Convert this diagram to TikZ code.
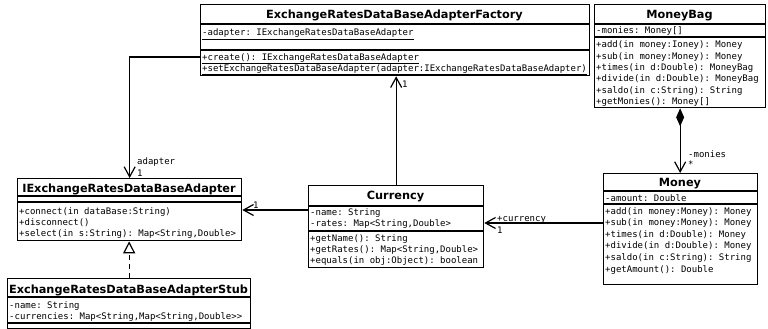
\documentclass[tikz,border=0pt]{standalone}
\usepackage{fontspec}
\setmainfont{DejaVu Sans}
\newfontfamily\memberfont{DejaVu Sans Mono}
\usetikzlibrary{arrows.meta}
\frenchspacing

% one text line of a class compartment
\newcommand\mem[4]{\node[member] (#1) at (#2,#3) {#4};}
% horizontal compartment divider across a class box
\newcommand\divider[2]{\draw[sep] (#1.west |- 0,#2) -- (#1.east |- 0,#2);}

\begin{document}
\begin{tikzpicture}[x=1pt,y=-1pt,
  classbox/.style={draw, line width=1.3pt, fill=white, inner sep=0, anchor=north west},
  sep/.style={line width=1.1pt},
  title/.style={font=\fontsize{11.3}{12}\selectfont\bfseries, inner sep=0, anchor=base},
  member/.style={font=\memberfont\fontsize{9}{11}\selectfont, inner sep=0, anchor=base west},
  lbl/.style={font=\memberfont\fontsize{9}{11}\selectfont, inner sep=0, anchor=base west},
  assoc/.style={line width=1.2pt, -{Straight Barb[length=10pt,width=11pt]}},
  compo/.style={line width=1.2pt, {Diamond[length=18pt,width=8pt]}-{Straight Barb[length=10pt,width=11pt]}},
  realize/.style={line width=1.2pt, dash pattern=on 5pt off 4pt, -{Triangle[open,length=12pt,width=12pt]}}
]
\path[use as bounding box, fill=white] (0,0) rectangle (768,329);

% ---------------- ExchangeRatesDataBaseAdapterFactory
\node[classbox, minimum width=389pt, minimum height=71pt] (factory) at (200,4) {};
\divider{factory}{24}
\divider{factory}{50}
\node[title] (factoryT) at (394.5,19) {ExchangeRatesDataBaseAdapterFactory};
\mem{factoryA}{202}{36}{\underline{-adapter: IExchangeRatesDataBaseAdapter}}
\mem{factoryO1}{202}{60}{\underline{+create(): IExchangeRatesDataBaseAdapter}}
\mem{factoryO2}{202}{71}{\underline{+setExchangeRatesDataBaseAdapter(adapter:IExchangeRatesDataBaseAdapter)}}

% ---------------- MoneyBag
\node[classbox, minimum width=171pt, minimum height=103pt] (bag) at (594,4) {};
\divider{bag}{24}
\divider{bag}{37}
\node[title] (bagT) at (679.5,19) {MoneyBag};
\mem{bagA}{596}{34}{-monies: Money[]}
\mem{bagO1}{596}{48}{+add(in money:Ioney): Money}
\mem{bagO2}{596}{59.3}{+sub(in money:Money): Money}
\mem{bagO3}{596}{70.6}{+times(in d:Double): MoneyBag}
\mem{bagO4}{596}{81.9}{+divide(in d:Double): MoneyBag}
\mem{bagO5}{596}{93.2}{+saldo(in c:String): String}
\mem{bagO6}{596}{104.5}{+getMonies(): Money[]}

% ---------------- Money
\node[classbox, minimum width=154pt, minimum height=111pt] (money) at (603,173) {};
\divider{money}{191}
\divider{money}{204}
\node[title] (moneyT) at (680,186) {Money};
\mem{moneyA}{605}{201}{-amount: Double}
\mem{moneyO1}{605}{214}{+add(in money:Money): Money}
\mem{moneyO2}{605}{225.6}{+sub(in money:Money): Money}
\mem{moneyO3}{605}{237.2}{+times(in d:Double): Money}
\mem{moneyO4}{605}{248.8}{+divide(in d:Double): Money}
\mem{moneyO5}{605}{260.4}{+saldo(in c:String): String}
\mem{moneyO6}{605}{272}{+getAmount(): Double}

% ---------------- IExchangeRatesDataBaseAdapter
\node[classbox, minimum width=224pt, minimum height=62pt] (iface) at (17,178) {};
\divider{iface}{196}
\divider{iface}{202}
\node[title] (ifaceT) at (129,192.5) {IExchangeRatesDataBaseAdapter};
\mem{ifaceO1}{19}{214}{+connect(in dataBase:String)}
\mem{ifaceO2}{19}{225}{+disconnect()}
\mem{ifaceO3}{19}{236}{+select(in s:String): Map<String,Double>}

% ---------------- ExchangeRatesDataBaseAdapterStub
\node[classbox, minimum width=243pt, minimum height=50pt] (stub) at (7,278) {};
\divider{stub}{297}
\divider{stub}{323}
\node[title] (stubT) at (128.5,293) {ExchangeRatesDataBaseAdapterStub};
\mem{stubA1}{9}{308}{-name: String}
\mem{stubA2}{9}{319}{-currencies: Map<String,Map<String,Double>>}

% ---------------- Currency
\node[classbox, minimum width=175pt, minimum height=82pt] (currency) at (308,185) {};
\divider{currency}{206}
\divider{currency}{231}
\node[title] (currencyT) at (395.5,199) {Currency};
\mem{currencyA1}{310}{215}{-name: String}
\mem{currencyA2}{310}{226}{-rates: Map<String,Double>}
\mem{currencyO1}{310}{241}{+getName(): String}
\mem{currencyO2}{310}{252}{+getRates(): Map<String,Double>}
\mem{currencyO3}{310}{263}{+equals(in obj:Object): boolean}

% ---------------- relations
\draw[assoc] (factory.west |- 0,57) -| (iface.north);
\node[lbl] (adapterRole) at (137,164) {adapter};
\node[lbl] (adapterMult) at (137,176) {1};

\draw[assoc] (currency.north) -- (currency.north |- factory.south);
\node[lbl] (factoryMult) at (402,87) {1};

\draw[assoc] (currency.west |- 0,210) -- (iface.east |- 0,210);
\node[lbl] (ifaceMult) at (253,208) {1};

\draw[assoc] (money.west |- 0,223) -- (currency.east |- 0,223);
\node[lbl] (currencyRole) at (497,221.5) {+currency};
\node[lbl] (currencyMult) at (497,233) {1};

\draw[compo] (bag.south) -- (bag.south |- money.north);
\node[lbl] (moniesRole) at (688,157) {-monies};
\node[lbl] (moniesMult) at (688,167) {*};

\draw[realize] (stub.north) -- (stub.north |- iface.south);
\end{tikzpicture}
\end{document}
